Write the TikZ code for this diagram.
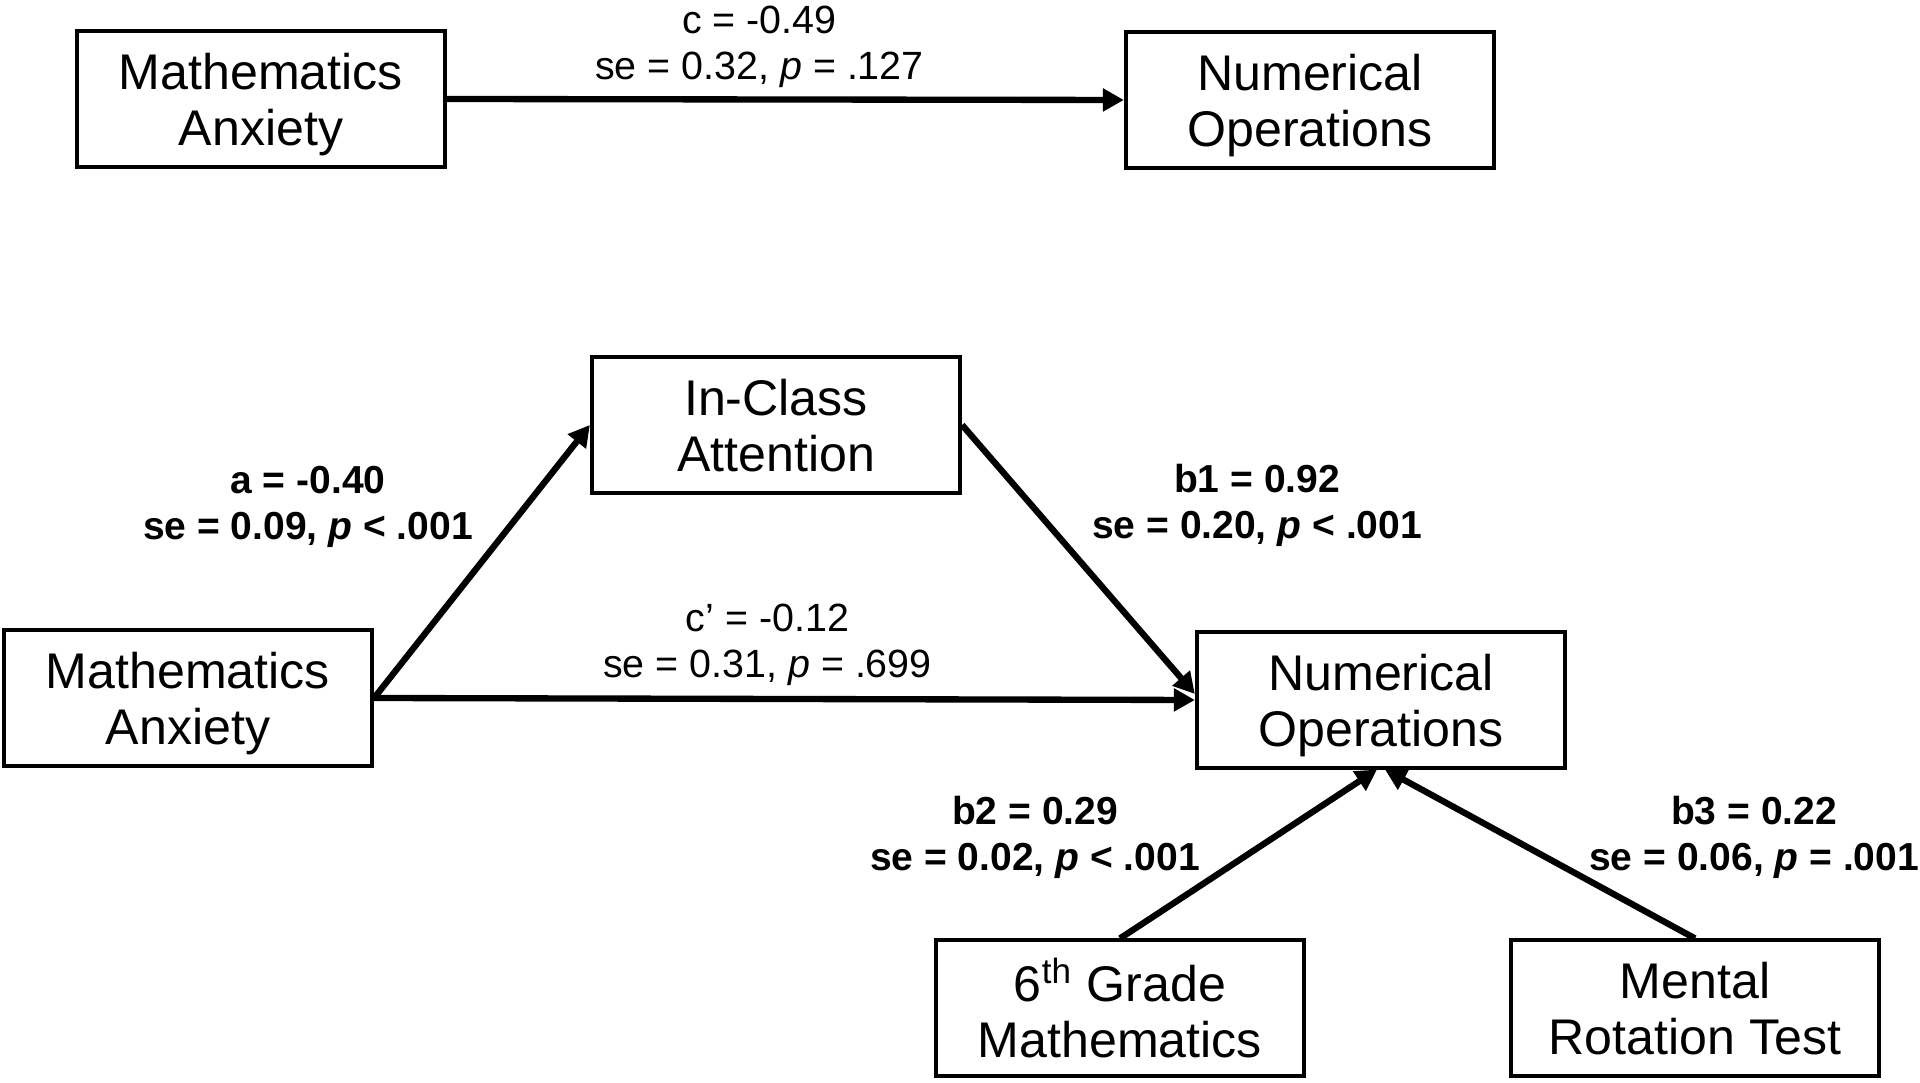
\documentclass[tikz,border=0pt]{standalone}
\usepackage{fontspec}
\setmainfont{Liberation Sans}
\usetikzlibrary{arrows.meta,positioning}

\begin{document}
\begin{tikzpicture}[x=0.01cm,y=-0.01cm,>={Triangle[length=6pt,width=6.3pt]},
    var node/.style={draw,line width=1.15pt,minimum width=3.68cm,minimum height=1.35cm,
      inner sep=0pt,align=center,text depth=0pt,font=\fontsize{14.25}{15.9}\selectfont},
    coef/.style={inner sep=0pt,align=center,font=\fontsize{11.2}{13.1}\selectfont},
    bold coef/.style={coef,font=\fontsize{11.1}{13.1}\selectfont\bfseries}]

  \useasboundingbox (0,0) rectangle (1920,1083);

  \node[var node] (anx) at (261,99) {Mathematics\\Anxiety};
  \node[var node] (num) at (1310,100) {Numerical\\Operations};
  \node[var node] (att) at (776,425) {In-Class\\Attention};
  \node[var node] (anx2) at (188,698) {Mathematics\\Anxiety};
  \node[var node] (num2) at (1381,700) {Numerical\\Operations};
  \node[var node] (grade) at (1120,1008) {6\textsuperscript{th} Grade\\Mathematics};
  \node[var node] (rot) at (1695,1008) {Mental\\Rotation Test};

  \path[->,line width=1.8pt,every node/.style={coef}]
    (anx.east) edge node[above=0.09cm,xshift=-0.26cm] {c = -0.49\\se = 0.32, \textit{p} = .127} (num.west)
    (anx2.east) edge node[above=0.10cm,xshift=-0.17cm] {c’ = -0.12\\se = 0.31, \textit{p} = .699} (num2.west);
  \path[->,line width=1.8pt,every node/.style={bold coef}]
    (anx2.east) edge node[pos=0.7,left=0.49cm] {a = -0.40\\se = 0.09, \textit{p} < .001} (att.west)
    (att.east) edge node[pos=0.3,right=0.57cm] {b1 = 0.92\\se = 0.20, \textit{p} < .001} ([yshift=0.06cm]num2.west)
    (grade.north) edge node[pos=0.6,left=0.71cm] {b2 = 0.29\\se = 0.02, \textit{p} < .001} ([xshift=-0.04cm]num2.south)
    (rot.north) edge node[pos=0.6,right=0.77cm] {b3 = 0.22\\se = 0.06, \textit{p} = .001} ([xshift=0.04cm]num2.south);
\end{tikzpicture}
\end{document}
